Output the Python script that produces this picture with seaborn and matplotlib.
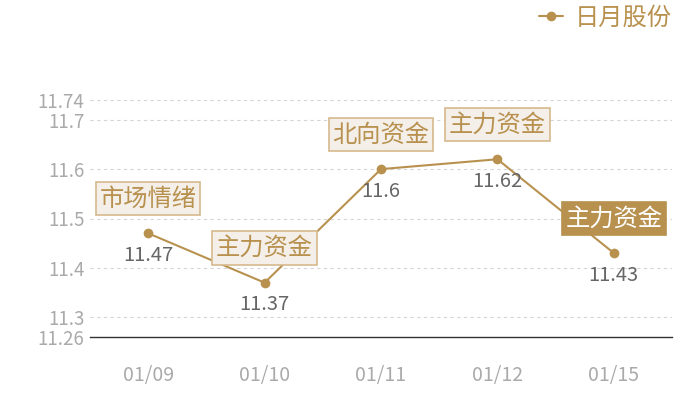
import numpy as np
import matplotlib
matplotlib.use('Agg')
import matplotlib.pyplot as plt
import pandas as pd
import seaborn as sns

# Dati
dates = ['01/09', '01/10', '01/11', '01/12', '01/15']
prices = [11.47, 11.37, 11.60, 11.62, 11.43]
tags = ['市场情绪', '主力资金', '北向资金', '主力资金', '主力资金']
value_labels = ['11.47', '11.37', '11.6', '11.62', '11.43']
y_ticks = [11.26, 11.3, 11.4, 11.5, 11.6, 11.7, 11.74]
y_tick_labels = ['11.26', '11.3', '11.4', '11.5', '11.6', '11.7', '11.74']
series_name = '日月股份'

gold = '#B8914F'
box_fill = '#F4EFE9'
box_edge = '#D6B98E'

sns.set_style('white')
plt.rcParams['font.family'] = ['Noto Sans CJK SC', 'DejaVu Sans']

df = pd.DataFrame({'date': dates, 'price': prices, 'serie': series_name})

fig = plt.figure(figsize=(7, 4), dpi=100)
ax = fig.add_axes([0.1286, 0.1575, 0.8314, 0.5925])

sns.lineplot(data=df, x='date', y='price', hue='serie', palette=[gold],
             marker='o', markersize=7, markeredgewidth=0, linewidth=1.5,
             sort=False, ax=ax)

ax.set_xlim(-0.5, len(dates) - 0.5)
ax.set_ylim(11.26, 11.74)
ax.set_yticks(y_ticks)
ax.set_yticklabels(y_tick_labels)
ax.yaxis.grid(True, linestyle=(0, (3, 3)), color='#D5D5D5', linewidth=0.8)
ax.set_axisbelow(True)
ax.tick_params(axis='both', colors='#AAAAAA', length=0)
ax.tick_params(axis='y', labelsize=13.5, pad=4)
ax.tick_params(axis='x', labelsize=14, pad=20)
for lbl in ax.get_yticklabels() + ax.get_xticklabels():
    lbl.set_color('#AAAAAA')
ax.set_xlabel('')
ax.set_ylabel('')
for s in ['top', 'right', 'left']:
    ax.spines[s].set_visible(False)
ax.spines['bottom'].set_color('#333333')
ax.spines['bottom'].set_linewidth(1.0)

# Etichette valori ed etichette evento
for i, (v, t, vl) in enumerate(zip(prices, tags, value_labels)):
    ax.annotate(vl, (i, v), xytext=(0, -16), textcoords='offset points',
                ha='center', va='center', fontsize=14.5, color='#666666')
    last = i == len(prices) - 1
    ax.annotate(t, (i, v), xytext=(0, 25), textcoords='offset points',
                ha='center', va='center', fontsize=17.5,
                color='white' if last else gold,
                bbox=dict(boxstyle='square,pad=0.15',
                          fc=gold if last else box_fill,
                          ec=gold if last else box_edge, lw=1.2))

leg = ax.legend(loc='center right', bbox_to_anchor=(1.0, 1.346), frameon=False,
                fontsize=17.5, handlelength=1.0, handletextpad=0.5, borderaxespad=0,
                borderpad=0)
for txt in leg.get_texts():
    txt.set_color(gold)

fig.savefig('out.png', dpi=100)
